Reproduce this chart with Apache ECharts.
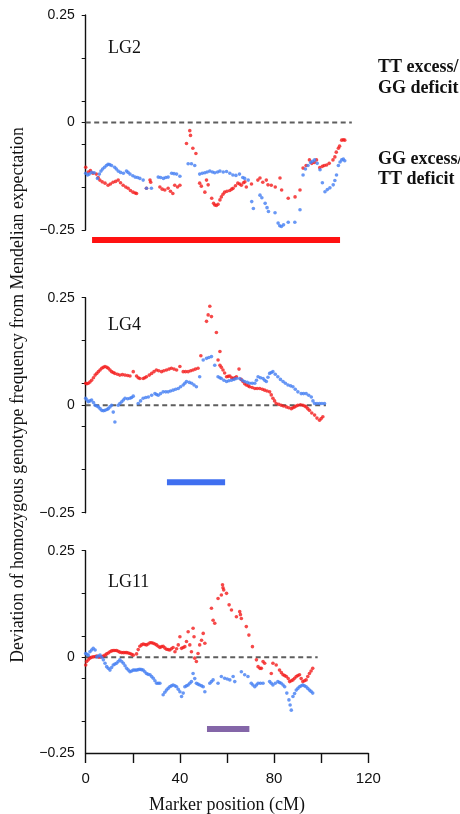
<!DOCTYPE html>
<html>
<head>
<meta charset="utf-8">
<script src="https://cdn.jsdelivr.net/npm/echarts@6/dist/echarts.min.js"></script>
<style>html,body{margin:0;padding:0;background:#fff}#c{width:460px;height:814px}</style>
</head>
<body>
<div id="c"></div>
<script>
// ---- data ----
const panelNames = ['LG2', 'LG4', 'LG11'];
const xTickLabels = [0, 40, 80, 120];
const yTickLabels = ['−0.25', '0', '0.25'];

const lg2Red = [[0,-0.104],[1.1,-0.115],[2,-0.112],[3.1,-0.118],[4.5,-0.12],[5.3,-0.128],[6,-0.134],[7,-0.138],[8.2,-0.141],[9.5,-0.146],[10.5,-0.143],[11.6,-0.139],[12.7,-0.137],[13.8,-0.134],[14.8,-0.14],[15.9,-0.146],[17,-0.15],[18,-0.153],[19,-0.158],[20.1,-0.162],[21,-0.164],[21.6,-0.165],[25.8,-0.153],[27.3,-0.134],[27.6,-0.139],[31.5,-0.15],[32.5,-0.155],[33.6,-0.157],[35,-0.153],[36,-0.16],[37,-0.165],[37.8,-0.146],[39,-0.15],[40,-0.146],
[42.8,-0.049],[44.2,-0.019],[44.5,-0.03],[45.5,-0.06],[46.8,-0.072],
[48.4,-0.141],[49.1,-0.148],[50.6,-0.162],[51.3,-0.134],[52,-0.145],[53.5,-0.176],[54.3,-0.188],[54.8,-0.192],[55.5,-0.193],[56.2,-0.19],[57,-0.18],[57.6,-0.173],[58.3,-0.167],[59,-0.162],[60,-0.16],[61.2,-0.158],[62,-0.155],[62.6,-0.153],[63.6,-0.147],[64.6,-0.141],[65.4,-0.143],[66.1,-0.146],[67,-0.14],[67.6,-0.138],[68.2,-0.15],[70.4,-0.143],[73.1,-0.134],[74,-0.129],[75.2,-0.139],[76.7,-0.134],[77.4,-0.145],[78.8,-0.146],[80.5,-0.15],[82.5,-0.129],[83.2,-0.157],[86,-0.176],[88.9,-0.173],[91,-0.157],[92.3,-0.106],[93.6,-0.1],[95,-0.087],[96,-0.095],[97.1,-0.093],[98,-0.087],[99.4,-0.105],[100.5,-0.102],[101.3,-0.1],[102.3,-0.099],[103.4,-0.095],[105,-0.087],[105.8,-0.08],[106.4,-0.069],[107.3,-0.06],[107.8,-0.055],[108.7,-0.041],[109.4,-0.04],[110,-0.041]];

const lg2Blue = [[0,-0.118],[0.8,-0.122],[1.5,-0.12],[2.5,-0.116],[3.6,-0.117],[5,-0.13],[5.8,-0.12],[6.5,-0.113],[7.2,-0.108],[8,-0.104],[8.8,-0.1],[9.5,-0.097],[10.2,-0.098],[11,-0.1],[12.3,-0.104],[13,-0.108],[13.8,-0.113],[14.8,-0.116],[16,-0.118],[17.3,-0.113],[18,-0.116],[18.8,-0.12],[20,-0.124],[21,-0.127],[22,-0.128],[23,-0.13],[24.4,-0.134],[25.8,-0.153],[27.9,-0.153],[30.8,-0.127],[31.8,-0.128],[33,-0.13],[34,-0.128],[35,-0.127],[36.5,-0.118],[37.5,-0.119],[38.6,-0.12],[40,-0.125],
[43.5,-0.096],[44.9,-0.096],[46.3,-0.1],
[48.4,-0.12],[49.5,-0.118],[50.6,-0.117],[51.6,-0.115],[52.7,-0.113],[53.8,-0.115],[54.8,-0.117],[56,-0.115],[57,-0.113],[58.4,-0.115],[59.8,-0.114],[61.2,-0.118],[62.5,-0.122],[63.8,-0.123],[65.3,-0.12],[66.7,-0.128],[67.5,-0.13],[69,-0.134],[70.5,-0.184],[71.2,-0.2],[74,-0.169],[74.8,-0.175],[76.2,-0.188],[77,-0.198],[77.6,-0.207],[80.4,-0.21],[81.7,-0.234],[82.4,-0.24],[83.1,-0.242],[84,-0.238],[86,-0.232],[88.8,-0.232],[91,-0.203],[92.3,-0.122],[93.3,-0.108],[94.4,-0.1],[95.5,-0.093],[96.3,-0.09],[97.2,-0.087],[98.3,-0.095],[99.5,-0.11],[100.5,-0.14],[101.6,-0.161],[102.6,-0.156],[103.7,-0.152],[105.1,-0.145],[105.8,-0.135],[106.5,-0.122],[107.3,-0.1],[108,-0.092],[108.7,-0.087],[109.4,-0.085],[110,-0.089]];

const lg4Red = [[0,0.051],[0.5,0.05],[1.1,0.051],[1.8,0.054],[2.5,0.058],[3.3,0.064],[4,0.07],[4.7,0.074],[5.4,0.078],[6.1,0.082],[6.8,0.086],[7.5,0.088],[8.2,0.09],[9,0.088],[9.6,0.086],[10.3,0.082],[11,0.078],[11.7,0.076],[12.4,0.074],[13.5,0.072],[14.5,0.07],[15.6,0.071],[16.7,0.07],[17.8,0.069],[18.8,0.068],[20.2,0.078],[21.6,0.068],[22.3,0.064],[23,0.062],[24.4,0.062],[25.1,0.064],[25.8,0.066],[27,0.07],[28,0.074],[29,0.078],[30,0.082],[31,0.08],[32.2,0.078],[33.2,0.08],[34.3,0.082],[35.4,0.084],[36.4,0.086],[37.5,0.084],[38.6,0.082],[40,0.09],[41.4,0.078],[42.4,0.078],[43.5,0.078],[44.6,0.08],[45.6,0.082],[46.6,0.084],[47.7,0.086],[48.9,0.115],
[51.3,0.195],[52,0.21],[52.7,0.23],[53.4,0.206],[55.5,0.169],[57,0.125],[56.2,0.105],
[57,0.093],[57.6,0.088],[58.3,0.082],[59,0.075],[59.8,0.066],[60.5,0.067],[61.2,0.068],[62,0.064],[62.6,0.062],[63.3,0.064],[64,0.066],[65.1,0.084],[66,0.06],[66.8,0.055],[67.5,0.05],[68.2,0.047],[69,0.045],[69.6,0.043],[70.7,0.041],[71.8,0.039],[72.8,0.039],[73.9,0.039],[75,0.037],[76,0.035],[77,0.033],[78.1,0.031],[78.8,0.024],[79.5,0.016],[80.2,0.01],[80.9,0.004],[82,0.002],[83,0],[84,-0.002],[85.2,-0.004],[86.2,-0.006],[87.3,-0.008],[88,-0.006],[88.7,-0.004],[89.4,-0.002],[90.1,0],[91.2,0.001],[92.2,0],[93,-0.002],[93.6,-0.004],[94.3,-0.008],[95,-0.012],[96,-0.018],[97.2,-0.023],[98.2,-0.03],[99.3,-0.035],[100,-0.031],[100.7,-0.027]];

const lg4Blue = [[0,0.016],[0.5,0.012],[1.1,0.008],[1.8,0.01],[2.5,0.012],[3.3,0.006],[4,0],[4.7,-0.002],[5.4,-0.004],[6.1,-0.008],[6.8,-0.012],[7.5,-0.013],[8.2,-0.012],[9,-0.01],[9.6,-0.008],[10.3,-0.004],[11,0],[11.7,-0.016],[12.4,-0.039],[13.8,0],[14.5,0.004],[15.3,0.008],[16,0.012],[16.7,0.016],[17.8,0.015],[18.8,0.016],[19.5,0.018],[20.2,0.021],[22.3,0.004],[23.3,0.01],[24.4,0.016],[25.5,0.018],[26.6,0.019],[28,0.023],[29.4,0.027],[30.1,0.025],[30.8,0.023],[31.8,0.027],[32.9,0.031],[34,0.031],[35,0.031],[36,0.033],[37.1,0.035],[38.2,0.037],[39.3,0.039],[40.3,0.043],[41.4,0.047],[42.1,0.051],[42.8,0.055],[44,0.053],[45,0.051],[46,0.047],[47,0.043],[48.4,0.066],[49.9,0.105],[51.3,0.109],[52.3,0.111],[53.4,0.113],[54.8,0.093],[56.2,0.066],[57,0.064],[57.6,0.062],[58.7,0.058],[59.8,0.055],[60.8,0.057],[61.9,0.058],[63,0.06],[64,0.062],[65.4,0.062],[66.5,0.058],[67.5,0.055],[68.6,0.053],[69.6,0.051],[70.7,0.051],[71.8,0.051],[72.5,0.058],[73.2,0.066],[74.2,0.064],[75.3,0.062],[76,0.058],[76.7,0.055],[77.4,0.065],[78.1,0.074],[78.8,0.076],[79.5,0.078],[80.5,0.072],[81.6,0.066],[82.7,0.06],[83.8,0.055],[84.8,0.051],[85.9,0.047],[87,0.045],[88,0.043],[89,0.037],[90.1,0.031],[91.5,0.027],[92.5,0.027],[93.6,0.027],[94.7,0.023],[95.8,0.019],[96.5,0.01],[97.2,0.004],[98.2,0.004],[99.3,0.004],[100.3,0.004],[101.4,0.004]];

const lg11Red = [[0,-0.018],[0.4,-0.01],[1.1,-0.006],[1.8,-0.002],[2.5,0],[3.2,0.001],[4,0.002],[4.7,0.003],[5.4,0.001],[6.1,0],[6.8,0.002],[7.5,0.003],[8.2,0.005],[8.9,0.008],[9.6,0.01],[10.3,0.013],[11,0.015],[11.7,0.016],[12.4,0.016],[13.1,0.016],[13.8,0.014],[14.5,0.012],[15.3,0.011],[16,0.011],[16.7,0.011],[17.4,0.011],[18.1,0.01],[18.8,0.009],[19.5,0.007],[20.2,0.005],[21.6,0.008],[22.3,0.018],[23,0.026],[23.7,0.029],[24.4,0.031],[25.1,0.03],[25.8,0.029],[26.5,0.031],[27.3,0.034],[28,0.034],[28.7,0.033],[29.4,0.031],[30.1,0.029],[30.8,0.026],[31.5,0.023],[32.2,0.025],[32.9,0.026],[33.6,0.022],[34.3,0.019],[35,0.018],[35.7,0.017],[36.4,0.02],[37.1,0.023],[37.9,0.013],[38.6,0.02],[39.3,0.029],[40,0.048],[40.7,0.021],[41.4,0.023],[42.1,0.025],[42.8,0.037],[43.5,0.06],[44.2,0.029],[44.9,0.013],[45.6,0.068],[46,0.048],[46.3,-0.002],[47,-0.01],[47.7,0.009],[48.4,0.029],[49.2,0.04],[49.9,0.056],[50.6,0.033],[53.4,0.115],[54.1,0.087],[54.8,0.08],[56.2,0.138],[57.6,0.146],[58.1,0.17],[58.3,0.163],[58.6,0.158],[59.8,0.15],[60.9,0.123],[61.9,0.111],[64,0.095],[65.4,0.107],[65.7,0.1],[66.1,0.091],[68.2,0.072],[69.3,0.052],[70.8,0.025],[72.5,-0.006],[73.2,-0.022],[74,-0.026],[74.6,-0.026],[75.3,-0.01],[76,-0.014],[78.8,-0.038],[79.5,-0.014],[80.9,-0.018],[82.3,-0.03],[83.1,-0.036],[83.8,-0.041],[84.5,-0.043],[85.2,-0.045],[86,-0.05],[86.6,-0.057],[87.3,-0.055],[88,-0.053],[88.7,-0.049],[89.4,-0.045],[90.1,-0.043],[90.8,-0.041],[91.5,-0.05],[92.2,-0.057],[92.9,-0.055],[93.6,-0.053],[94.3,-0.045],[95,-0.038],[95.7,-0.032],[96.4,-0.026]];

const lg11Blue = [[0,0.009],[0.5,0.007],[1.1,0.005],[1.8,0.013],[2.5,0.017],[3.2,0.021],[4,0.017],[4.7,0.001],[5.4,0.003],[6.1,0.005],[6.8,0],[7.5,-0.006],[8.2,-0.014],[8.9,-0.022],[9.6,-0.026],[10.3,-0.03],[11,-0.024],[11.7,-0.018],[12.4,-0.016],[13.1,-0.014],[13.8,-0.01],[14.5,-0.006],[15.3,-0.01],[16,-0.014],[16.7,-0.02],[17.4,-0.026],[18.1,-0.03],[18.8,-0.034],[19.5,-0.032],[20.2,-0.03],[20.9,-0.03],[21.6,-0.03],[22.3,-0.029],[23,-0.028],[23.7,-0.029],[24.4,-0.03],[25.1,-0.034],[25.8,-0.038],[26.5,-0.04],[27.3,-0.041],[28,-0.045],[28.7,-0.049],[29.4,-0.055],[30.1,-0.061],[30.8,-0.061],[31.5,-0.061],[32.9,-0.088],[33.6,-0.082],[34.3,-0.077],[35,-0.073],[35.7,-0.069],[36.4,-0.067],[37.1,-0.065],[37.9,-0.067],[38.6,-0.069],[39.3,-0.075],[40,-0.081],[40.7,-0.092],[41.4,-0.084],[42.1,-0.069],[42.8,-0.067],[43.5,-0.065],[44.2,-0.061],[44.9,-0.057],[45.6,-0.038],[46.3,-0.05],[47,-0.061],[47.7,-0.063],[48.4,-0.065],[49.2,-0.067],[49.9,-0.069],[50.6,-0.081],[52.7,-0.061],[53.4,-0.057],[54.1,-0.053],[56.2,-0.061],[57.6,-0.045],[59,-0.049],[60.1,-0.051],[61.2,-0.053],[62.6,-0.045],[63.3,-0.057],[66.1,-0.034],[67.5,-0.041],[68.9,-0.045],[70.3,-0.061],[71,-0.065],[71.8,-0.069],[72.5,-0.065],[73.2,-0.061],[74.2,-0.061],[75.3,-0.061],[78.1,-0.057],[78.8,-0.061],[79.5,-0.065],[80.5,-0.061],[81.6,-0.057],[82.3,-0.059],[83,-0.061],[83.8,-0.065],[84.5,-0.069],[85.4,-0.084],[86.3,-0.1],[86.8,-0.112],[87.3,-0.124],[88,-0.092],[88.7,-0.085],[89.4,-0.077],[90.1,-0.073],[90.8,-0.069],[91.5,-0.067],[92.2,-0.065],[92.9,-0.067],[93.6,-0.069],[94.3,-0.073],[95,-0.077],[95.7,-0.08],[96.4,-0.084]];

const panelRed = [lg2Red, lg4Red, lg11Red];
const panelBlue = [lg2Blue, lg4Blue, lg11Blue];
// dashed zero reference extends to these positions (cM)
const zeroLineEnd = [113, 102, 98.5];
// coloured interval bars: [start cM, end cM, level]
const barStart = [2.7, 34.5, 51.5];
const barEnd = [108, 59.2, 69.5];
const barLevel = [-0.273, -0.179, -0.168];
const barColor = ['#ff1111', '#3f6ff0', '#8466a8'];

// ---- layout ----
const SERIF = '"Liberation Serif","Times New Roman",serif';
const SANS = '"Liberation Sans",Arial,sans-serif';
const gridTop = [15, 297.7, 550.7];
const gridH = [215, 215, 202.3];
const yMin = [-0.25, -0.25, -0.2245];
const gridLeft = 85.7, gridW = 282.6;

const grids = [], xAxes = [], yAxes = [], series = [];
for (let i = 0; i < 3; i++) {
  grids.push({left: gridLeft, top: gridTop[i], width: gridW, height: gridH[i], containLabel: false, outerBoundsMode: 'none'});
  const isBottom = i === 2;
  xAxes.push({
    gridIndex: i, type: 'value', min: 0, max: 120, interval: 20, show: isBottom,
    axisLine: {show: true, onZero: false, lineStyle: {color: '#111', width: 1.4}},
    axisTick: {show: true, length: 10, lineStyle: {color: '#111', width: 1.4}},
    axisLabel: {customValues: xTickLabels, margin: 18, fontFamily: SANS, fontSize: 15, color: '#111'},
    splitLine: {show: false},
    name: isBottom ? 'Marker position (cM)' : '', nameLocation: 'middle', nameGap: 43,
    nameTextStyle: {fontFamily: SERIF, fontSize: 18, color: '#111'}
  });
  const mn = yMin[i];
  yAxes.push({
    gridIndex: i, type: 'value', min: mn, max: 0.25,
    axisLine: {show: true, onZero: false, lineStyle: {color: '#111', width: 1.4}},
    axisTick: {show: true, length: 4, customValues: [-0.25, -0.15, -0.05, 0, 0.05, 0.15, 0.25].filter(v => v >= mn), lineStyle: {color: '#111', width: 1}},
    axisLabel: {customValues: [mn, 0, 0.25], margin: 11, fontFamily: SANS, fontSize: 14, color: '#111',
      formatter: v => v > 0.1 ? yTickLabels[2] : (v < -0.1 ? yTickLabels[0] : yTickLabels[1])},
    splitLine: {show: false}
  });
  series.push({
    type: 'line', xAxisIndex: i, yAxisIndex: i, data: [[0, 0], [zeroLineEnd[i], 0]],
    symbol: 'none', silent: true, z: 1,
    lineStyle: {color: '#5e5e5e', width: 2, type: [5, 3.5]}
  });
  series.push({
    type: 'line', xAxisIndex: i, yAxisIndex: i, data: [[barStart[i], barLevel[i]], [barEnd[i], barLevel[i]]],
    symbol: 'none', clip: false, silent: true,
    lineStyle: {color: barColor[i], width: 6, cap: 'butt'}
  });
  series.push({
    type: 'scatter', xAxisIndex: i, yAxisIndex: i, data: panelRed[i], symbolSize: 3.6, z: 3,
    itemStyle: {color: '#f41c1c'}
  });
  series.push({
    type: 'scatter', xAxisIndex: i, yAxisIndex: i, data: panelBlue[i], symbolSize: 3.6, z: 4,
    itemStyle: {color: '#437ef3'}
  });
}

const graphics = [];
const lgY = [48, 325, 582];
for (let i = 0; i < 3; i++) {
  graphics.push({type: 'text', x: 108, y: lgY[i], style: {text: panelNames[i], font: '18px ' + SERIF, fill: '#111', verticalAlign: 'middle'}});
}
graphics.push({type: 'text', x: 18, y: 395, rotation: Math.PI / 2,
  style: {text: 'Deviation of homozygous genotype frequency from Mendelian expectation', font: '17.8px ' + SERIF, fill: '#111', align: 'center', verticalAlign: 'middle'}});
const sideFont = 'bold 18px ' + SERIF;
graphics.push({type: 'text', x: 378, y: 67, style: {text: 'TT excess/', font: sideFont, fill: '#111', verticalAlign: 'middle'}});
graphics.push({type: 'text', x: 378, y: 88, style: {text: 'GG deficit', font: sideFont, fill: '#111', verticalAlign: 'middle'}});
graphics.push({type: 'text', x: 378, y: 159, style: {text: 'GG excess/', font: sideFont, fill: '#111', verticalAlign: 'middle'}});
graphics.push({type: 'text', x: 378, y: 179, style: {text: 'TT deficit', font: sideFont, fill: '#111', verticalAlign: 'middle'}});

const chart = echarts.init(document.getElementById('c'), null, {renderer: 'canvas'});
chart.setOption({
  animation: false,
  backgroundColor: '#fff',
  grid: grids, xAxis: xAxes, yAxis: yAxes, series: series, graphic: graphics
});
</script>
</body>
</html>
